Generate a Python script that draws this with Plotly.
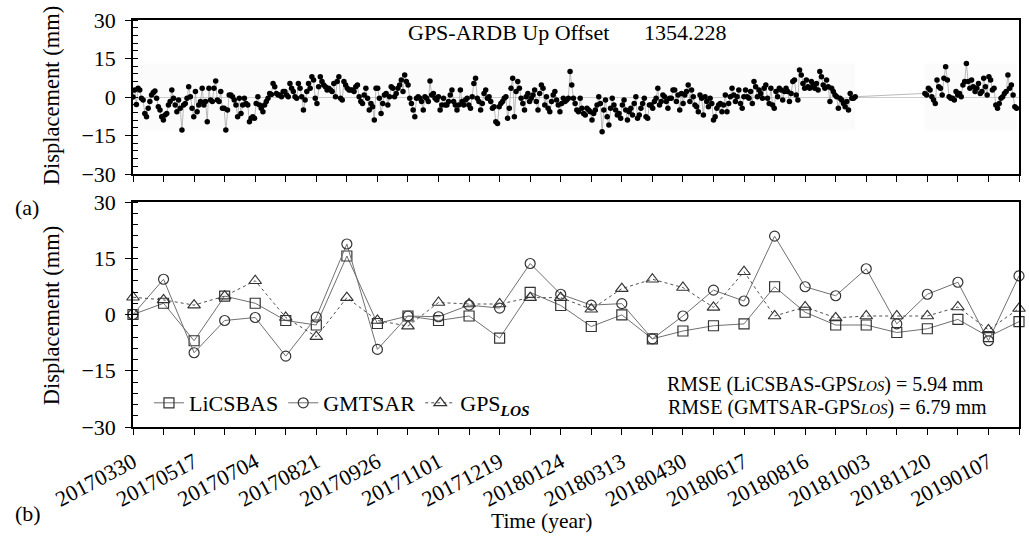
import numpy as np
import plotly.graph_objects as go

# ---------------- data ----------------
# bottom panel: SAR acquisition index 0..29 (labels every second acquisition)
tick_labels = ["20170330", "20170517", "20170704", "20170821", "20170926",
               "20171101", "20171219", "20180124", "20180313", "20180430",
               "20180617", "20180816", "20181003", "20181120", "20190107"]
n_acq = 30

licsbas = [0, 3.0, -7.0, 4.9, 3.0, -1.6, -2.8, 15.6, -2.4, -0.4, -1.6, -0.4, -6.3, 5.9, 2.4,
           -3.2, -0.1, -6.5, -4.4, -3.0, -2.5, 7.4, 0.6, -2.8, -2.8, -4.8, -3.8, -1.3, -5.9, -1.9]
gmtsar = [0, 9.4, -10.2, -1.6, -0.8, -11.1, -0.7, 18.8, -9.3, -0.4, -0.6, 2.5, 1.7, 13.6, 5.4,
          2.5, 2.9, -6.5, -0.4, 6.5, 3.6, 20.9, 7.4, 5.0, 12.2, -2.5, 5.4, 8.6, -7.0, 10.3]
gps_los = [4.6, 3.9, 2.5, 4.9, 9.0, -0.8, -5.9, 4.5, -1.6, -3.1, 3.2, 2.8, 2.8, 4.5, 4.5,
           1.4, 6.9, 9.4, 7.2, 1.9, 11.4, -0.4, 2.0, -0.9, -0.4, -0.4, -0.4, 2.0, -4.1, 1.6]

# top panel: daily GPS up component (two continuous segments, in acquisition-index units)
gps_seg1_span = (0.0, 23.64)
gps_seg1 = [
    0, 2.7, -2.9, 3.4, 2.7, -0.5, -1.2, -6.4, -7.7, -4.4, -1.8, 0.8, 1.8, 2.3, -0.5, -3.8, -5.1,
    -7.7, -9, -7, -6.4, -3.1, -1.8, 2.7, -0.5, -3.1, -5.7, -1.2, -4.4, -12.9, -3.1, -2.5, -0.5, 4,
    0.1, -4.4, -7.7, 2.1, -5.7, -3.1, -1.8, 3.4, -3.1, -1.8, -9.6, 3.4, -1.2, -1.8, 3.4, 6.2, -1.2,
    -1.8, 2.1, -4.4, -4.4, -12.9, -5.1, 0.8, 0.8, 0.1, -1.2, -3.1, -7.7, -0.5, -6.4, -3.1, -0.5,
    -2.5, -3.1, -9.6, -8.3, -7.7, -8.3, -2.5, 0.1, -3.1, -4.4, -5.7, -3.1, -1.8, -0.5, 1.4, 1.0,
    5.3, 4, 1.4, 0.8, 0.8, 0.1, 2.1, 2.1, 0.8, 0.1, 5.3, 3.4, 2.1, 0.1, -0.5, 5.3, 3.4, 0.1, -5.1,
    -1.2, 2.1, 5.3, 3.4, 7.9, 6.6, -0.5, -2.5, 4, 7.9, 6, 4.7, 4, 2.7, 3.4, 2.7, 2.1, 5.3, 0.1, 6,
    7.9, -0.5, -1.2, 6, 4.7, 3.4, 2.7, 2.7, 2.7, 2.1, 4, 4.7, 0.1, -1.8, -2.5, 0.8, 3.4, -0.5, -5.1,
    -2.5, -3.8, -9, 3.4, 3.4, -0.5, -6.4, -2.5, 0.8, 1.4, -3.1, 0.1, 4, 3.4, 0.1, 1.4, 3.4, 4.7, 6.6,
    2.1, 8.6, 6, 4.7, -0.5, -2.5, -5.1, -7.7, -0.5, 0.1,
    -0.5, -1.8, -5.1, 0.1, -0.5, -1.8, 6.2, 0.8, 1.4, -0.5, -1.2, 0.1, -5.1, -3.1, -0.5, -3.1, -3.1,
    -1.8, 0.8, 2.7, -1.8, -3.1, -5.1, -3.1, 2.7, -1.8, -3.1, -1.2, -0.5, -3.1, -4.4, 0.1, 5.3, 7.3,
    -0.5, -1.8, -5.1, -2.5, 1.4, 2.7, -0.5, 0.1, -1.8, -4.4, -3.8, -9.6, -10.3, -3.8, -2.5, -1.8,
    -0.5, 0.1, -8.3, -4.4, 3.4, 7.3, -7.7, 2.1, 6, 3.4, -0.5, -2.5, -5.1, 0.1, 1.4, -1.8, -0.5, 0.8,
    2.7, -1.8, -5.1, 1.4, 4.7, 3.4, -3.1, 0.1, -4.4, -5.7, -1.8, 0.8, 2.1, -1.2, -3.1, -5.7, -2.5,
    -0.5, -1.8, -1.2, -0.5,
    9.9, 4.7, -0.5, -2.5, -5.1, -5.7, -0.5, -4.4, -6.4, -7, -4.4, -5.1, -5.7, -9, -6.4, -5.1, -3.1,
    0.1, -2.5, -13.5, -5.1, -1.2, -7.7, -10.9, -4.4, -0.5, -3.1, -5.1, -7, -6.4, -8.3, -3.1, -1.2,
    -5.1, -9, -5.7, -4.4, -7, -2.5, 0.1, -8.3, -7, -4.4, -2.5, -0.5, -7.7, -8.3, -3.1, -3.1, -4.4,
    -1.8, -0.5, 3.4, -3.1, -1.8, 0.8, 0.1, -1.8, -4.4, -0.5, -0.5, 2.7, 2.7, -1.8, 0.8, -5.1, 1.4,
    -2.5, 0.8, 2.1, 4.7, -1.8, 2.7, 0.1, -3.1, -3.8, -5.7, 0.8, -0.5, -7, 0.1, -1.8, -3.8, -0.5,
    -2.5, -9, -7.7, -4.4, -3.1,
    -2.5, -5.7, -3.1, 0.8, -5.7, -2.5, 0.1, 3.4, 0.8, -1.8, 0.1, 2.7, -2.5, -4.4, 0.1, 2.7, 0.1,
    -0.5, 2.1, -2.5, 6, 4, 0.1, 2.7, 1.4, -0.5, 3.4, 4.7, -0.5, -2.5, 3.4, -3.1, -4.4, 2.1, 0.1,
    3.4, 2.7, -1.2, 2.1, 3.4, 2.1, -1.8, 1.4, 6, 6.6, 0.8, -1.2, 10.5, 8.6, 5.3, 3.4, 6.6, 4, 3.4,
    6, 4.7, 3.4, 5.3, 2.7, 9.9, 7.9, 4.7, 3.4, 6.6, 4, -1.8, 3.4, 2.1, 0.8, 0.1, -4.4, -0.5, -1.2,
    -2.5, -3.8, -1.8, -5.1, 1.4, -0.5, -0.5, 0.1]
gps_seg2_span = (25.92, 28.92)
gps_seg2 = [
    1.4, 0.8, 3.4, 2.7, 0.1, -1.2, -2.5, 6.6, 4, 3.4, 0.8, 7.3, 11.8, 6.6, 0.1, -0.5, -0.5, -1.2,
    2.1, 0.8, 1.4, 0.1, 4.7, 6, 13.1, 6, 3.4, 6.6, 4, 2.1, 3.4, 5.3, 1.4, 2.1, 7.3, 4, 0.8, 7.9,
    6.6, 2.7, 3.4, -3.1, -4.4, -2.5, -0.5, 0.1, 1.4, 2.1, 8.6, 3.4, 4.7, 0.8, -3.8, -4.4]

gps_offset_text = "1354.228"
rmse_licsbas = 5.94
rmse_gmtsar = 6.79

# ---------------- layout helpers ----------------
W, H = 1029, 536
L, R, T, B = 133, 8, 20, 109
def px(x):
    return (x - L) / (W - L - R)
def py(y):
    return (H - B - y) / (H - T - B)

FONT = "Liberation Serif, Times New Roman, serif"

x_top = np.concatenate([np.linspace(*gps_seg1_span, len(gps_seg1)),
                        np.linspace(*gps_seg2_span, len(gps_seg2))])
y_top = gps_seg1 + gps_seg2
idx = list(range(n_acq))
label_pos = idx[::2]

fig = go.Figure()
fig.add_trace(go.Scatter(x=x_top, y=y_top, mode="lines+markers", xaxis="x2", yaxis="y2",
                         line=dict(color="#a8a8a8", width=0.8),
                         marker=dict(color="black", size=5.5), showlegend=False))
fig.add_trace(go.Scatter(x=idx, y=licsbas, mode="lines+markers", name="LiCSBAS",
                         line=dict(color="#707070", width=1),
                         marker=dict(symbol="square-open", size=10, color="#333",
                                     line=dict(width=1.2)), cliponaxis=False))
fig.add_trace(go.Scatter(x=idx, y=gmtsar, mode="lines+markers", name="GMTSAR",
                         line=dict(color="#707070", width=1),
                         marker=dict(symbol="circle-open", size=10, color="#333",
                                     line=dict(width=1.2)), cliponaxis=False))
fig.add_trace(go.Scatter(x=idx, y=gps_los, mode="lines+markers",
                         name="GPS<sub><b><i>LOS</i></b></sub>",
                         line=dict(color="#505050", width=1, dash="dot"),
                         marker=dict(symbol="triangle-up-open", size=11, color="#333",
                                     line=dict(width=1.2)), cliponaxis=False))

axis_common = dict(showline=True, linecolor="black", linewidth=1.5, mirror=True,
                   showgrid=False, ticks="outside", ticklen=6, tickcolor="black",
                   tickwidth=1.2)
xcommon = dict(axis_common, range=[0, n_acq - 1], zeroline=False,
               tickfont=dict(family=FONT, size=22, color="black"),
               minor=dict(tickmode="linear", tick0=0, dtick=1, ticks="outside",
                          ticklen=6, tickcolor="black", tickwidth=1.2))
ycommon = dict(axis_common, range=[-30, 30], tickmode="array",
               tickvals=[-30, -15, 0, 15, 30], ticklabelstandoff=5,
               tickfont=dict(family=FONT, size=22, color="black"),
               minor=dict(tickmode="linear", tick0=0, dtick=3, ticks="inside",
                          ticklen=5, tickcolor="black", tickwidth=1))

fig.update_layout(
    width=W, height=H,
    margin=dict(l=L, r=R, t=T, b=B),
    paper_bgcolor="white", plot_bgcolor="white",
    font=dict(family=FONT, color="black"),
    xaxis=dict(xcommon, anchor="y", domain=[0, 1], tickmode="array", tickvals=label_pos,
               ticktext=tick_labels, tickangle=-28, ticklabelstandoff=6),
    xaxis2=dict(xcommon, anchor="y2", domain=[0, 1], tickmode="array", tickvals=label_pos,
                showticklabels=False, matches="x"),
    yaxis=dict(ycommon, anchor="x", domain=[0, py(202)], zeroline=False),
    yaxis2=dict(ycommon, anchor="x2", domain=[py(174), 1], zeroline=True,
                zerolinecolor="#cccccc", zerolinewidth=1),
    legend=dict(orientation="h", x=px(149), y=py(403), xanchor="left", yanchor="middle",
                bgcolor="rgba(0,0,0,0)", font=dict(family=FONT, size=22, color="black"),
                itemwidth=30, tracegroupgap=0),
    showlegend=True,
)

# faint envelope behind GPS series
for span in (gps_seg1_span, gps_seg2_span):
    fig.add_shape(type="rect", xref="x2", yref="y2", x0=span[0], x1=span[1], y0=-13, y1=13,
                  fillcolor="rgba(0,0,0,0.015)", line=dict(width=0), layer="below")

def ann(text, x, y, size=21, xanchor="center", angle=0):
    fig.add_annotation(text=text, x=px(x), y=py(y), xref="paper", yref="paper",
                       showarrow=False, xanchor=xanchor, yanchor="middle", textangle=angle,
                       font=dict(family=FONT, size=size, color="black"))

ann("GPS-ARDB Up Offset", 612, 33, 22, "right")
ann(gps_offset_text, 643, 33, 22, "left")
ann("(a)", 27, 207, 22)
ann("(b)", 28, 513, 22)
ann("Displacement (mm)", 51, 96, 22.5, angle=-90)
ann("Displacement (mm)", 51, 316, 22.5, angle=-90)
ann("Time (year)", 542, 521, 21.5)
small = '<span style="font-size:15px"><i>LOS</i></span>'
ann(f"RMSE (LiCSBAS-GPS{small}) = {rmse_licsbas:.2f} mm", 827, 384, 20)
ann(f"RMSE (GMTSAR-GPS{small}) = {rmse_gmtsar:.2f} mm", 829, 407, 20)

fig.write_html("out.html")
